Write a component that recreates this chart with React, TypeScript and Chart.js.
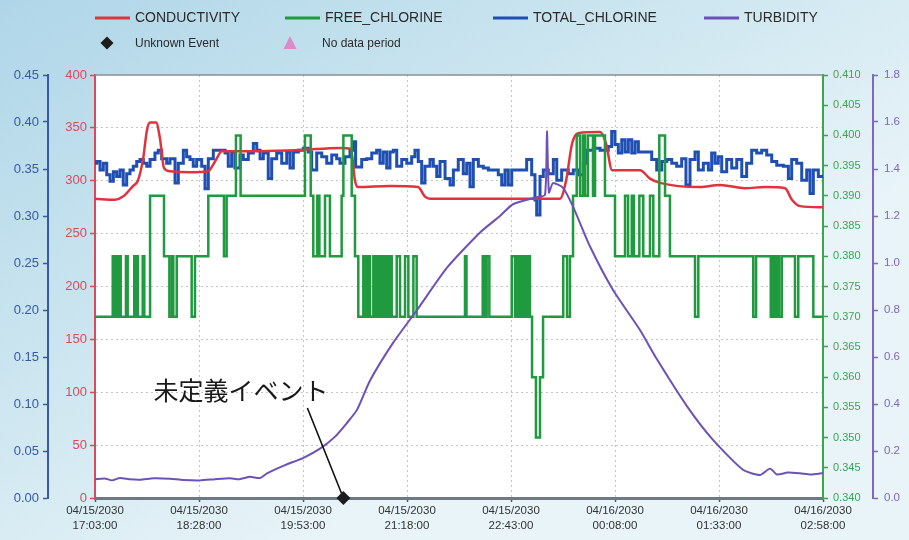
import { useEffect, useRef } from "react";
import { Chart, registerables } from "chart.js";

Chart.register(...registerables);

// Time axis: minutes after the first sample (04/15/2030 17:03:00)
const START_MS = new Date(2030, 3, 15, 17, 3, 0).getTime();
const SPAN_MINUTES = 595;
const timeTicks = [0, 85, 170, 255, 340, 425, 510, 595];

const conductivityTicks = [0, 50, 100, 150, 200, 250, 300, 350, 400];
const totalChlorineTicks = [0, 0.05, 0.1, 0.15, 0.2, 0.25, 0.3, 0.35, 0.4, 0.45];
const freeChlorineTicks = [
  0.34, 0.345, 0.35, 0.355, 0.36, 0.365, 0.37, 0.375, 0.38, 0.385, 0.39, 0.395, 0.4, 0.405, 0.41,
];
const turbidityTicks = [0, 0.2, 0.4, 0.6, 0.8, 1.0, 1.2, 1.4, 1.6, 1.8];

// [minutes, value]
const conductivity: [number, number][] = [
  [0, 283], [16.3, 282], [22.9, 285], [31, 295], [35, 300], [39.2, 320], [42.5, 348], [45, 355],
  [49.9, 355], [53.1, 340], [56.4, 312], [61.3, 309], [77.6, 308], [92.4, 309], [98, 318],
  [103.8, 328], [134.9, 328], [167.6, 329], [200.2, 331], [209.2, 330], [212.5, 300], [215, 294],
  [241.1, 295], [264, 294], [269.7, 285], [273.8, 283], [380, 283], [385, 300], [389.9, 335],
  [394.8, 345], [412.8, 346], [417.7, 335], [422.6, 310], [445.4, 310], [453.6, 302], [461.8, 298],
  [494.5, 294], [510.8, 296], [531.3, 293], [547.6, 294], [564, 293], [569.6, 282], [576.2, 276],
  [595, 275],
];

// step changes: [minute the level starts, level]
const freeChlorine: [number, number][] = [
  [0, 0.37], [14.5, 0.38], [15.8, 0.37], [17.2, 0.38], [18.2, 0.37], [19.9, 0.38], [21, 0.37],
  [25.3, 0.38], [26.7, 0.37], [32.1, 0.38], [33.5, 0.37], [34.3, 0.38], [35.1, 0.37], [39, 0.38],
  [40.3, 0.37], [45, 0.39], [56.4, 0.38], [60.8, 0.37], [62.9, 0.38], [64, 0.37], [66.8, 0.38],
  [79, 0.37], [81.7, 0.38], [92.6, 0.39], [105.4, 0.38], [107.6, 0.39], [115.2, 0.4], [119, 0.39],
  [171.6, 0.4], [176.3, 0.39], [178.4, 0.38], [181.7, 0.39], [183.4, 0.38], [188, 0.39],
  [192, 0.38], [201.6, 0.39], [203, 0.4], [209.8, 0.39], [212.5, 0.38], [215.2, 0.37],
  [219.3, 0.38], [220.5, 0.37], [221.5, 0.38], [222.5, 0.37], [223.5, 0.38], [224.8, 0.37],
  [227.5, 0.38], [228.8, 0.37], [230, 0.38], [231.2, 0.37], [232.5, 0.38], [234.3, 0.37],
  [235.6, 0.38], [237, 0.37], [238.5, 0.38], [240, 0.37], [241, 0.38], [242.5, 0.37],
  [246.6, 0.38], [249.3, 0.37], [253.4, 0.38], [256.1, 0.37], [260.2, 0.38], [262.9, 0.37],
  [302.4, 0.38], [303.6, 0.37], [316.9, 0.38], [318.8, 0.37], [320.1, 0.38], [322.3, 0.37],
  [340.6, 0.38], [343.3, 0.37], [344.7, 0.38], [346.1, 0.37], [347.4, 0.38], [349, 0.37],
  [350.6, 0.38], [352.3, 0.37], [353.9, 0.38], [355.5, 0.37], [357.2, 0.36], [360.4, 0.35],
  [363.7, 0.36], [366.2, 0.37], [382.7, 0.38], [385.8, 0.37], [388.2, 0.38], [390.7, 0.39],
  [393.7, 0.4], [396.4, 0.39], [398.8, 0.4], [400.5, 0.39], [402.9, 0.4], [407, 0.39],
  [408.7, 0.4], [416.8, 0.39], [425, 0.38], [433.2, 0.39], [435.7, 0.38], [438.7, 0.39],
  [440.5, 0.38], [444.9, 0.39], [448.1, 0.38], [453.6, 0.39], [456.3, 0.38], [461.2, 0.4],
  [465.9, 0.39], [469.9, 0.38], [490.4, 0.37], [493.1, 0.38], [538, 0.37], [540.3, 0.38],
  [552.3, 0.37], [554.2, 0.38], [555.9, 0.37], [557.5, 0.38], [559.1, 0.37], [561.3, 0.38],
  [572.1, 0.37], [574.8, 0.38], [587.1, 0.37], [595, 0.37],
];

const totalChlorine: [number, number][] = [
  [0, 0.356], [1.4, 0.358], [4.1, 0.349], [6.8, 0.356], [9.6, 0.344], [12.3, 0.337], [15, 0.347],
  [17.7, 0.342], [20.4, 0.349], [23.1, 0.333], [25.9, 0.345], [28.6, 0.349], [31.3, 0.353],
  [34.1, 0.358], [36.8, 0.36], [39.5, 0.356], [42.3, 0.353], [45, 0.36], [49, 0.367], [51.7, 0.37],
  [54.5, 0.361], [58.6, 0.356], [61.3, 0.361], [65.4, 0.335], [68.1, 0.356], [72.2, 0.37],
  [74.9, 0.363], [77.6, 0.36], [80.3, 0.353], [83.1, 0.36], [87.2, 0.353], [89.9, 0.329],
  [92.6, 0.361], [96.7, 0.37], [102.2, 0.37], [106.3, 0.367], [108.9, 0.353], [111.7, 0.368],
  [114.4, 0.351], [118.5, 0.365], [121.2, 0.36], [125.3, 0.367], [129.4, 0.377], [132.2, 0.37],
  [134.9, 0.361], [137.6, 0.367], [141.6, 0.34], [144.4, 0.361], [148.5, 0.367], [152.6, 0.356],
  [156.7, 0.368], [159.4, 0.351], [162.1, 0.368], [166.2, 0.37], [170.3, 0.372], [174.3, 0.368],
  [177.1, 0.349], [181.2, 0.367], [185.3, 0.363], [189.4, 0.356], [193.5, 0.365], [197.5, 0.361],
  [200.2, 0.356], [204.3, 0.363], [208.4, 0.37], [211.1, 0.379], [213, 0.352], [218, 0.36],
  [222.1, 0.361], [226.2, 0.367], [230.2, 0.37], [232.9, 0.356], [235.6, 0.368], [238.4, 0.351],
  [241.1, 0.368], [243.8, 0.37], [246.6, 0.353], [250.7, 0.36], [254.8, 0.356], [258.8, 0.363],
  [261.5, 0.37], [264.2, 0.358], [267, 0.335], [269.7, 0.353], [273.8, 0.36], [276.5, 0.353],
  [279.3, 0.342], [282, 0.358], [286.1, 0.34], [290.2, 0.333], [292.9, 0.349], [296.9, 0.36],
  [301, 0.345], [303.8, 0.356], [306.5, 0.331], [309.2, 0.36], [313.3, 0.353], [317.4, 0.351],
  [321.5, 0.349], [325.5, 0.349], [329.6, 0.344], [332.4, 0.333], [335.1, 0.349], [337.8, 0.333],
  [340.6, 0.349], [344.7, 0.349], [348.8, 0.349], [352.8, 0.36], [356.9, 0.344], [359.6, 0.317],
  [361, 0.301], [363.7, 0.342], [366.4, 0.349], [370.5, 0.345], [374.6, 0.36], [377.4, 0.338],
  [381.4, 0.349], [386.8, 0.345], [390.9, 0.349], [395, 0.344], [399.1, 0.356], [401.9, 0.37],
  [407.3, 0.372], [412.8, 0.37], [419.5, 0.374], [422.3, 0.39], [425, 0.376], [427.7, 0.367],
  [430.5, 0.381], [433.2, 0.368], [435.9, 0.381], [438.7, 0.367], [441.4, 0.379], [444.1, 0.368],
  [451, 0.368], [455, 0.36], [459.1, 0.349], [463.2, 0.358], [467.3, 0.36], [471.4, 0.356],
  [475.4, 0.353], [479.5, 0.361], [483, 0.333], [486.3, 0.36], [490.4, 0.368], [493.1, 0.349],
  [497.2, 0.356], [501.3, 0.349], [504, 0.367], [506.7, 0.356], [509.4, 0.363], [512.2, 0.347],
  [516.3, 0.36], [520.4, 0.351], [524.5, 0.36], [528.6, 0.342], [532.6, 0.356], [536.7, 0.37],
  [540.8, 0.367], [544.9, 0.37], [549, 0.365], [553.1, 0.358], [557.2, 0.354], [562.6, 0.353],
  [566.7, 0.34], [569.4, 0.36], [573.5, 0.356], [577.6, 0.338], [581.7, 0.349], [584.4, 0.324],
  [587.1, 0.349], [591.2, 0.342], [595, 0.344],
];

const turbidity: [number, number][] = [
  [0, 0.08], [8, 0.083], [14, 0.075], [20.4, 0.085], [28, 0.08], [36.8, 0.078], [48, 0.084],
  [61.3, 0.082], [72, 0.077], [85.8, 0.075], [98, 0.08], [110, 0.084], [118, 0.08], [126.7, 0.09],
  [134.9, 0.085], [140.6, 0.105], [155.3, 0.14], [170, 0.17], [183.9, 0.21], [196, 0.26],
  [206, 0.32], [214.1, 0.375], [224.8, 0.5], [243.6, 0.66], [263.2, 0.8], [287.7, 0.98],
  [314.7, 1.13], [331, 1.2], [341.6, 1.25], [361.3, 1.28], [367.8, 1.29], [369.4, 1.56],
  [371, 1.3], [374.3, 1.34], [382.5, 1.32], [390.7, 1.24], [404.6, 1.07], [423.4, 0.885],
  [445.4, 0.715], [459.3, 0.59], [483.9, 0.39], [505.1, 0.247], [529.6, 0.12], [543.5, 0.098],
  [551.7, 0.125], [557.4, 0.1], [566, 0.108], [576.2, 0.105], [585, 0.1], [595, 0.106],
];

const unknownEvents: [number, number][] = [[203, 0]];
const eventLabel = "未定義イベント";

const RED = "#e2323e";
const GREEN = "#1f9a3e";
const BLUE = "#1f4fb2";
const PURPLE = "#6c52b8";
const PINK = "#d98cc9";

const RED_AXIS = "#db4a5c";
const BLUE_AXIS = "#3659a8";
const GREEN_AXIS = "#3ca553";
const PURPLE_AXIS = "#8366c0";
const GRID = "#c4c4c4";
const FONT = "'Liberation Sans', Arial, sans-serif";

const pad2 = (n: number) => String(n).padStart(2, "0");
function timeLabel(min: number): string[] {
  const d = new Date(START_MS + min * 60000);
  return [
    `${pad2(d.getMonth() + 1)}/${pad2(d.getDate())}/${d.getFullYear()}`,
    `${pad2(d.getHours())}:${pad2(d.getMinutes())}:${pad2(d.getSeconds())}`,
  ];
}

const toXY = (pts: [number, number][]) => pts.map(([x, y]) => ({ x, y }));
const fixedTicks = (values: number[]) => (scale: any) => {
  scale.ticks = values.map((value) => ({ value }));
};

// Legend layout: two rows above the plot
const legendEntries = [
  { label: "CONDUCTIVITY", kind: "line", color: RED, x: 95, y: 18 },
  { label: "FREE_CHLORINE", kind: "line", color: GREEN, x: 285, y: 18 },
  { label: "TOTAL_CHLORINE", kind: "line", color: BLUE, x: 493, y: 18 },
  { label: "TURBIDITY", kind: "line", color: PURPLE, x: 704, y: 18 },
  { label: "Unknown Event", kind: "diamond", color: "#1c1c1c", x: 95, y: 43 },
  { label: "No data period", kind: "triangle", color: PINK, x: 280, y: 43 },
];

const decorPlugin = {
  id: "decor",
  beforeDraw(chart: any) {
    const { ctx, width, height, chartArea: a } = chart;
    ctx.save();
    const g = ctx.createLinearGradient(0, 0, width * 0.35, height);
    g.addColorStop(0, "#afd6e8");
    g.addColorStop(0.55, "#cde6f0");
    g.addColorStop(1, "#e8f4f8");
    ctx.fillStyle = g;
    ctx.fillRect(0, 0, width, height);
    ctx.fillStyle = "#ffffff";
    ctx.fillRect(a.left, a.top, a.right - a.left, a.bottom - a.top);
    ctx.restore();
  },
  beforeDatasetsDraw(chart: any) {
    const { ctx, chartArea: a } = chart;
    ctx.save();
    ctx.strokeStyle = "#8b8f93";
    ctx.lineWidth = 1.5;
    ctx.beginPath();
    ctx.moveTo(a.left, a.top);
    ctx.lineTo(a.right, a.top);
    ctx.stroke();
    ctx.restore();
  },
  afterDraw(chart: any) {
    const { ctx } = chart;
    ctx.save();
    // legend
    for (const e of legendEntries) {
      ctx.fillStyle = e.color;
      ctx.strokeStyle = e.color;
      let textX = e.x + 40;
      if (e.kind === "line") {
        ctx.lineWidth = 3;
        ctx.beginPath();
        ctx.moveTo(e.x, e.y);
        ctx.lineTo(e.x + 35, e.y);
        ctx.stroke();
        ctx.font = `14px ${FONT}`;
      } else if (e.kind === "diamond") {
        const cx = e.x + 12;
        ctx.beginPath();
        ctx.moveTo(cx, e.y - 6.5);
        ctx.lineTo(cx + 6.5, e.y);
        ctx.lineTo(cx, e.y + 6.5);
        ctx.lineTo(cx - 6.5, e.y);
        ctx.closePath();
        ctx.fill();
        ctx.font = `12px ${FONT}`;
      } else {
        const cx = e.x + 10;
        ctx.beginPath();
        ctx.moveTo(cx, e.y - 7);
        ctx.lineTo(cx + 6.5, e.y + 6);
        ctx.lineTo(cx - 6.5, e.y + 6);
        ctx.closePath();
        ctx.fill();
        ctx.font = `12px ${FONT}`;
        textX = e.x + 42;
      }
      ctx.fillStyle = "#2b2b2b";
      ctx.textBaseline = "middle";
      ctx.textAlign = "left";
      ctx.fillText(e.label, textX, e.y + 0.5);
    }

    // event callout
    const xs = chart.scales.x;
    const ys = chart.scales.yCond;
    for (const [t, v] of unknownEvents) {
      const px = xs.getPixelForValue(t);
      const py = ys.getPixelForValue(v);
      ctx.strokeStyle = "#111";
      ctx.lineWidth = 1.6;
      ctx.beginPath();
      ctx.moveTo(px - 36, py - 90);
      ctx.lineTo(px, py);
      ctx.stroke();
      ctx.fillStyle = "#1a1a1a";
      ctx.font = `25px 'Noto Sans CJK JP', sans-serif`;
      ctx.textAlign = "right";
      ctx.textBaseline = "alphabetic";
      ctx.fillText(eventLabel, px - 15, py - 98);
      ctx.fillStyle = "#1c1c1c";
      ctx.beginPath();
      ctx.moveTo(px, py - 7);
      ctx.lineTo(px + 7, py);
      ctx.lineTo(px, py + 7);
      ctx.lineTo(px - 7, py);
      ctx.closePath();
      ctx.fill();
    }
    ctx.restore();
  },
};

function sideAxis(
  position: "left" | "right",
  color: string,
  ticks: number[],
  digits: number,
  width: number,
  fontSize: number,
  padding: number,
  onArea: boolean
) {
  return {
    type: "linear",
    position,
    min: ticks[0],
    max: ticks[ticks.length - 1],
    afterBuildTicks: fixedTicks(ticks),
    afterFit: (s: any) => {
      s.width = width;
    },
    grid: {
      drawOnChartArea: onArea,
      color: (c: any) => (c.index === 0 || c.index === ticks.length - 1 ? "rgba(0,0,0,0)" : GRID),
      lineWidth: 1,
      tickColor: color,
      tickLength: 5,
      tickWidth: 1.5,
    },
    border: { color, width: 2, dash: onArea ? [2, 3] : undefined },
    ticks: {
      color,
      padding,
      font: { size: fontSize, family: FONT },
      callback: (v: any) => Number(v).toFixed(digits),
    },
  };
}

export default function App() {
  const ref = useRef<HTMLCanvasElement>(null);

  useEffect(() => {
    if (!ref.current) return;
    const chart = new Chart(ref.current, {
      type: "line",
      data: {
        datasets: [
          {
            label: "Unknown Event",
            data: toXY(unknownEvents),
            yAxisID: "yCond",
            showLine: false,
            pointRadius: 0,
            order: 0,
          },
          {
            label: "TURBIDITY",
            data: toXY(turbidity),
            yAxisID: "yTurb",
            borderColor: PURPLE,
            borderWidth: 2,
            pointRadius: 0,
            tension: 0.2,
            order: 1,
          },
          {
            label: "FREE_CHLORINE",
            data: toXY(freeChlorine),
            yAxisID: "yFree",
            borderColor: GREEN,
            borderWidth: 2.5,
            pointRadius: 0,
            stepped: true,
            order: 2,
          },
          {
            label: "CONDUCTIVITY",
            data: toXY(conductivity),
            yAxisID: "yCond",
            borderColor: RED,
            borderWidth: 2.5,
            pointRadius: 0,
            cubicInterpolationMode: "monotone",
            order: 3,
          },
          {
            label: "TOTAL_CHLORINE",
            data: toXY(totalChlorine),
            yAxisID: "yTotal",
            borderColor: BLUE,
            borderWidth: 3,
            pointRadius: 0,
            stepped: true,
            order: 4,
          },
        ],
      } as any,
      options: {
        responsive: false,
        devicePixelRatio: 1,
        animation: false,
        layout: { padding: { top: 75, left: 0, right: 0, bottom: 0 } },
        plugins: { legend: { display: false }, tooltip: { enabled: false } },
        scales: {
          x: {
            type: "linear",
            min: 0,
            max: SPAN_MINUTES,
            afterBuildTicks: fixedTicks(timeTicks),
            afterFit: (s: any) => {
              s.height = 42;
            },
            grid: {
              color: (c: any) =>
                c.index === 0 || c.index === timeTicks.length - 1 ? "rgba(0,0,0,0)" : GRID,
              tickColor: "#555",
              tickLength: 4,
              tickWidth: 1.5,
            },
            border: { color: "#6d7a85", width: 3, dash: [2, 3] },
            ticks: {
              autoSkip: false,
              maxRotation: 0,
              padding: 2,
              color: "#333",
              font: { size: 11.5, family: FONT, lineHeight: 1.25 },
              callback: (v: any) => timeLabel(Number(v)),
            },
          },
          yCond: sideAxis("left", RED_AXIS, conductivityTicks, 0, 47, 13, 3, true),
          yTotal: sideAxis("left", BLUE_AXIS, totalChlorineTicks, 2, 48, 13, 4, false),
          yFree: sideAxis("right", GREEN_AXIS, freeChlorineTicks, 3, 50, 11, 5, false),
          yTurb: sideAxis("right", PURPLE_AXIS, turbidityTicks, 1, 36, 11.5, 6, false),
        } as any,
      },
      plugins: [decorPlugin],
    });
    return () => chart.destroy();
  }, []);

  return (
    <div style={{ position: "absolute", left: 0, top: 0, width: 909, height: 540 }}>
      <canvas ref={ref} width={909} height={540} style={{ display: "block", width: 909, height: 540 }} />
    </div>
  );
}
